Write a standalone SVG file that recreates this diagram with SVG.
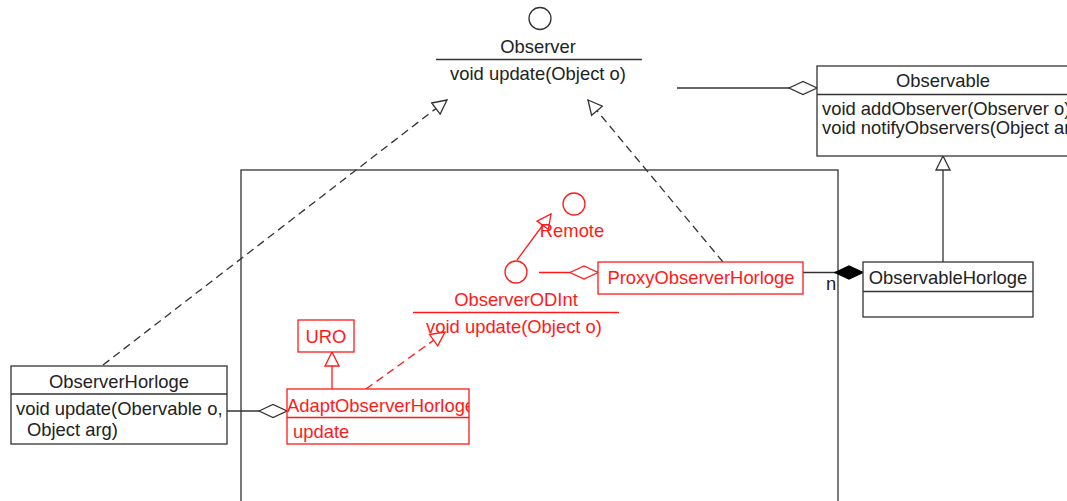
<svg xmlns="http://www.w3.org/2000/svg" width="1067" height="501" viewBox="0 0 1067 501">
<style>
text{font-family:"Liberation Sans",Arial,sans-serif;font-size:18.4px;fill:#222}
.r text,text.r{fill:#ff1a1a}
.box{fill:#fff;stroke:#333;stroke-width:1.3}
.rbox{fill:#fff;stroke:#ff1a1a;stroke-width:1.3}
.ln{fill:none;stroke:#333;stroke-width:1.3}
.rln{fill:none;stroke:#ff1a1a;stroke-width:1.3}
.dash{stroke-dasharray:8 5}
.mid{text-anchor:middle}
</style>
<defs>
<marker id="triK" viewBox="0 0 16 16" refX="15" refY="8" markerWidth="16" markerHeight="16" markerUnits="userSpaceOnUse" orient="auto">
<path d="M1,1 L15,8 L1,15 z" fill="#fff" stroke="#333" stroke-width="1.3"/>
</marker>
<marker id="triR" viewBox="0 0 16 16" refX="15" refY="8" markerWidth="16" markerHeight="16" markerUnits="userSpaceOnUse" orient="auto">
<path d="M1,1 L15,8 L1,15 z" fill="#fff" stroke="#ff1a1a" stroke-width="1.3"/>
</marker>
<marker id="diaK" viewBox="0 0 30 16" refX="29" refY="8" markerWidth="30" markerHeight="16" markerUnits="userSpaceOnUse" orient="auto">
<path d="M1,8 L15,1.5 L29,8 L15,14.5 z" fill="#fff" stroke="#333" stroke-width="1.3"/>
</marker>
<marker id="diaR" viewBox="0 0 30 16" refX="29" refY="8" markerWidth="30" markerHeight="16" markerUnits="userSpaceOnUse" orient="auto">
<path d="M1,8 L15,1.5 L29,8 L15,14.5 z" fill="#fff" stroke="#ff1a1a" stroke-width="1.3"/>
</marker>
<marker id="diaF" viewBox="0 0 30 16" refX="29" refY="8" markerWidth="30" markerHeight="16" markerUnits="userSpaceOnUse" orient="auto">
<path d="M1,8 L15,1.5 L29,8 L15,14.5 z" fill="#000" stroke="#000" stroke-width="1.3"/>
</marker>
<clipPath id="clipAdapt"><rect x="287" y="389" width="182" height="56"/></clipPath>
</defs>

<g id="package">
<rect x="241" y="170" width="597" height="340" fill="none" stroke="#333" stroke-width="1.3"/>
</g>

<g id="connectors">
<line class="ln dash" x1="103" y1="365" x2="447" y2="100" marker-end="url(#triK)"/>
<line class="ln dash" x1="723" y1="262" x2="588" y2="100" marker-end="url(#triK)"/>
<line class="ln" x1="677" y1="88" x2="817" y2="88" marker-end="url(#diaK)"/>
<line class="ln" x1="943" y1="262" x2="943" y2="156" marker-end="url(#triK)"/>
<line class="ln" x1="803" y1="272.5" x2="863" y2="272.5" marker-end="url(#diaF)"/>
<line class="ln" x1="227" y1="411" x2="287" y2="411" marker-end="url(#diaK)"/>
<line class="rln" x1="539" y1="272.5" x2="598" y2="272.5" marker-end="url(#diaR)"/>
<line class="rln" x1="517" y1="260" x2="551" y2="214" marker-end="url(#triR)"/>
<line class="rln" x1="332" y1="389" x2="332" y2="352" marker-end="url(#triR)"/>
<line class="rln dash" x1="366" y1="389" x2="445" y2="332" marker-end="url(#triR)"/>
<text x="826" y="290">n</text>
</g>

<g id="Observer">
<circle cx="540" cy="18.5" r="11" fill="#fff" stroke="#333" stroke-width="1.3"/>
<text class="mid" x="538" y="53">Observer</text>
<line class="ln" x1="436" y1="59.5" x2="642" y2="59.5"/>
<text class="mid" x="538" y="80">void update(Object o)</text>
</g>

<g id="Observable">
<rect class="box" x="817" y="66" width="270" height="90"/>
<line class="ln" x1="817" y1="94.5" x2="1087" y2="94.5"/>
<text class="mid" x="943" y="87">Observable</text>
<text x="822" y="115">void addObserver(Observer o)</text>
<text x="822" y="134">void notifyObservers(Object arg)</text>
</g>

<g id="ObservableHorloge">
<rect class="box" x="863" y="262" width="170" height="55"/>
<line class="ln" x1="863" y1="291.5" x2="1033" y2="291.5"/>
<text class="mid" x="948" y="284">ObservableHorloge</text>
</g>

<g id="ObserverHorloge">
<rect class="box" x="11" y="366" width="216" height="78"/>
<line class="ln" x1="11" y1="394" x2="227" y2="394"/>
<text class="mid" x="119" y="388">ObserverHorloge</text>
<text x="16" y="415">void update(Obervable o,</text>
<text x="27" y="436">Object arg)</text>
</g>

<g id="Remote" class="r">
<circle cx="574" cy="204" r="11" fill="#fff" stroke="#ff1a1a" stroke-width="1.3"/>
<text class="mid" x="572" y="237">Remote</text>
</g>

<g id="ObserverODInt" class="r">
<circle cx="516" cy="272" r="11" fill="#fff" stroke="#ff1a1a" stroke-width="1.3"/>
<text class="mid" x="516" y="306">ObserverODInt</text>
<line class="rln" x1="413" y1="312.5" x2="619" y2="312.5"/>
<text class="mid" x="514" y="333">void update(Object o)</text>
</g>

<g id="ProxyObserverHorloge" class="r">
<rect class="rbox" x="598" y="262" width="205" height="32"/>
<text class="mid" x="701" y="284">ProxyObserverHorloge</text>
</g>

<g id="URO" class="r">
<rect class="rbox" x="298" y="320" width="56" height="32"/>
<text class="mid" x="326" y="343">URO</text>
</g>

<g id="AdaptObserverHorloge" class="r">
<rect class="rbox" x="287" y="389" width="182" height="55"/>
<line class="rln" x1="287" y1="417.5" x2="469" y2="417.5"/>
<text x="287" y="412" clip-path="url(#clipAdapt)">AdaptObserverHorloge</text>
<text x="293" y="438">update</text>
</g>
</svg>
